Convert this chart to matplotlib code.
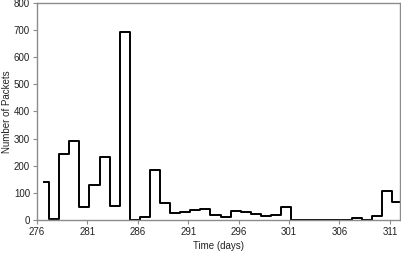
import matplotlib
matplotlib.use('Agg')
import matplotlib.pyplot as plt

# start of each bin (days) and packet counts
days = [276.7, 277.2, 278.2, 279.2, 280.2, 281.2, 282.2, 283.2, 284.2, 285.2,
        286.2, 287.2, 288.2, 289.2, 290.2, 291.2, 292.2, 293.2, 294.2, 295.2,
        296.2, 297.2, 298.2, 299.2, 300.2, 301.2, 302.2, 303.2, 304.2, 305.2,
        306.2, 307.2, 308.2, 309.2, 310.2, 311.2]
packets = [138, 2, 243, 292, 47, 130, 233, 52, 692, 0,
           10, 183, 60, 25, 30, 35, 39, 17, 9, 32,
           28, 21, 13, 16, 46, 0, 0, 0, 0, 0,
           0, 5, 0, 14, 105, 67]
end_day = 312

xticks = [276, 281, 286, 291, 296, 301, 306, 311]
yticks = [0, 100, 200, 300, 400, 500, 600, 700, 800]

plt.rcParams['font.family'] = ['Liberation Sans', 'DejaVu Sans']

fig = plt.figure(figsize=(4.02, 2.54), dpi=100)
ax = fig.add_axes([37 / 402, (254 - 219.7) / 254, 363 / 402, 216.5 / 254])

ax.step(days + [end_day], packets + [packets[-1]], where='post',
        color='black', linewidth=1.4, clip_on=False)

ax.set_xlim(276, 312)
ax.set_ylim(0, 800)
ax.set_xticks(xticks)
ax.set_yticks(yticks)

for s in ax.spines.values():
    s.set_color('#8c8c8c')
    s.set_linewidth(1.0)

ax.tick_params(axis='both', direction='out', length=3, width=0.8,
               color='#8c8c8c', labelsize=7, labelcolor='#222222', pad=2)

ax.set_xlabel('Time (days)', fontsize=7, color='#222222', labelpad=3)
ax.set_ylabel('Number of Packets', fontsize=7, color='#222222')
ax.yaxis.set_label_coords(-0.068, 0.5)

fig.savefig('out.png', dpi=100)
